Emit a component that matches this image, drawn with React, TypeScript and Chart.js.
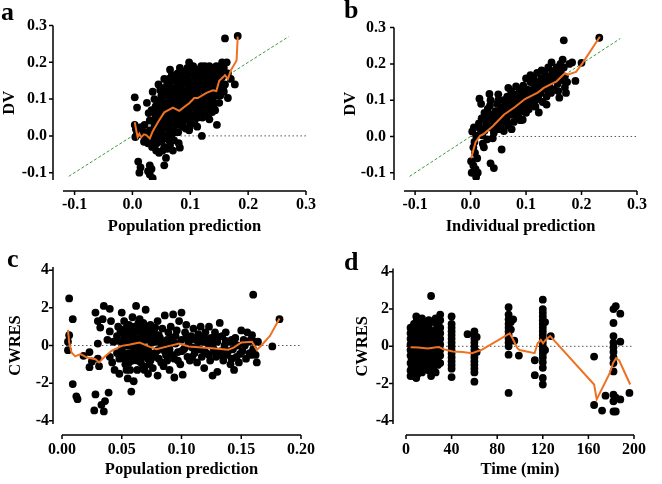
import React, { useEffect, useRef } from "react";
import { Chart, registerables } from "chart.js";
Chart.register(...registerables);

const SERIF = "'Liberation Serif', 'Times New Roman', Times, serif";
const ORANGE = "#EE7222";
const GREEN = "#3A9A3A";
type Pt = [number, number];

// ---- tick values ----
const predTicks = [-0.1, 0, 0.1, 0.2, 0.3];
const dvTicks = [-0.1, 0, 0.1, 0.2, 0.3];
const cPredTicks = [0, 0.05, 0.1, 0.15, 0.2];
const cwresTicks = [-4, -2, 0, 2, 4];
const timeTicks = [0, 40, 80, 120, 160, 200];

// ---- reference lines ----
const identityLine: Pt[] = [[-0.11, -0.11], [0.27, 0.27]];
const zeroLineAB: Pt[] = [[0, 0], [0.3, 0]];
const zeroLineC: Pt[] = [[0, 0], [0.2, 0]];
const zeroLineD: Pt[] = [[0, 0], [200, 0]];

// ---- panel a: DV vs population prediction ----
const aPoints: Pt[] = [
  [0.004,0.105],[0.008,0.077],[0.004,0.03],[0.006,0.018],[0.008,0.006],[0.005,-0.003],[0.012,0.004],[0.015,0.024],[0.018,0.012],[0.021,0.03],[0.022,-0.006],[0.01,-0.07],[0.014,-0.086],[0.012,-0.1],[0.02,-0.016],
  [0.025,0.09],[0.028,0.062],[0.03,0.042],[0.03,0.015],[0.032,-0.005],[0.027,-0.02],[0.034,-0.03],[0.036,0.006],[0.038,0.025],[0.04,0.055],[0.04,0.08],[0.038,0.1],[0.035,0.12],[0.041,-0.04],[0.046,-0.046],[0.03,-0.08],[0.033,-0.09],[0.03,-0.105],[0.035,-0.115],[0.027,-0.096],[0.026,0.005],[0.033,0.07],
  [0.045,0.14],[0.048,0.125],[0.05,0.11],[0.046,0.095],[0.05,0.08],[0.047,0.06],[0.052,0.045],[0.045,0.03],[0.05,0.015],[0.055,0.0],[0.05,-0.015],[0.055,-0.03],[0.058,-0.06],[0.055,-0.08],[0.06,0.14],[0.058,0.12],[0.061,0.1],[0.056,0.085],[0.06,0.065],[0.058,0.035],[0.061,0.02],[0.055,0.155],[0.063,0.05],[0.053,0.065],[0.043,0.012],[0.062,-0.01],
  [0.065,0.18],[0.068,0.165],[0.065,0.145],[0.07,0.13],[0.066,0.115],[0.07,0.095],[0.068,0.075],[0.072,0.06],[0.066,0.04],[0.07,0.02],[0.068,0.004],[0.072,-0.012],[0.075,0.15],[0.078,0.135],[0.075,0.11],[0.08,0.09],[0.076,0.07],[0.078,0.05],[0.08,0.03],[0.075,0.01],[0.08,-0.02],[0.082,-0.032],[0.078,0.17],[0.082,0.185],[0.073,0.085],[0.083,0.065],
  [0.085,0.16],[0.088,0.142],[0.086,0.104],[0.09,0.1],[0.087,0.08],[0.09,0.06],[0.088,0.04],[0.092,0.02],[0.09,0.172],[0.095,0.185],[0.098,0.2],[0.095,0.155],[0.097,0.13],[0.1,0.115],[0.095,0.095],[0.1,0.075],[0.096,0.055],[0.1,0.035],[0.098,0.015],[0.093,0.118],
  [0.105,0.19],[0.108,0.17],[0.105,0.15],[0.11,0.135],[0.107,0.12],[0.11,0.1],[0.106,0.085],[0.11,0.065],[0.108,0.045],[0.112,0.025],[0.115,0.18],[0.118,0.16],[0.115,0.145],[0.12,0.125],[0.116,0.105],[0.12,0.085],[0.118,0.07],[0.121,0.05],[0.12,0.0],
  [0.125,0.19],[0.128,0.17],[0.125,0.15],[0.13,0.135],[0.127,0.115],[0.13,0.095],[0.128,0.08],[0.132,0.06],[0.135,0.18],[0.138,0.16],[0.135,0.14],[0.14,0.12],[0.136,0.1],[0.14,0.08],[0.138,0.065],[0.133,0.045],
  [0.145,0.19],[0.148,0.17],[0.145,0.15],[0.15,0.13],[0.147,0.11],[0.15,0.09],[0.146,0.03],[0.155,0.2],[0.158,0.185],[0.155,0.16],[0.16,0.14],[0.158,0.12],[0.163,0.2],[0.165,0.17],[0.165,0.103],[0.17,0.155],[0.177,0.14],[0.16,0.265],[0.182,0.272],
  [0.042,0.07],[0.044,0.045],[0.047,0.02],[0.049,-0.002],[0.052,0.13],[0.053,0.095],[0.054,0.03],[0.057,0.105],[0.059,0.08],[0.059,0.05],[0.062,0.13],[0.063,0.155],[0.064,0.085],[0.064,0.005],[0.067,0.03],[0.067,0.1],[0.069,0.055],[0.071,0.16],[0.071,0.11],[0.072,0.045],[0.074,0.125],[0.074,0.035],[0.077,0.095],[0.077,0.16],[0.079,0.115],[0.079,0.01],[0.081,0.15],[0.081,0.075],[0.083,0.045],[0.084,0.13],[0.085,0.09],[0.086,0.175],[0.087,0.025],[0.089,0.12],[0.091,0.08],[0.091,0.15],[0.093,0.045],[0.094,0.17],[0.096,0.07],[0.097,0.11],[0.099,0.14],[0.099,0.025],
  [0.101,0.17],[0.102,0.095],[0.102,0.055],[0.103,0.13],[0.104,0.18],[0.106,0.11],[0.107,0.035],[0.109,0.15],[0.109,0.08],[0.111,0.18],[0.112,0.12],[0.113,0.05],[0.114,0.095],[0.116,0.165],[0.117,0.13],[0.119,0.19],[0.119,0.1],[0.121,0.145],[0.122,0.065],[0.123,0.175],[0.124,0.105],[0.126,0.13],[0.127,0.16],[0.129,0.09],[0.131,0.15],[0.131,0.115],[0.133,0.19],[0.134,0.075],[0.136,0.165],[0.137,0.13],[0.139,0.095],[0.14,0.18],[0.141,0.145],[0.143,0.11],[0.143,0.07],[0.144,0.165],[0.147,0.13],[0.149,0.185],[0.151,0.15],[0.152,0.11],[0.153,0.17],[0.156,0.14],[0.157,0.125],
  [0.036,-0.015],[0.039,0.04],[0.042,-0.02],[0.044,-0.005],[0.048,0.035],[0.052,-0.04],[0.058,0.0],[0.06,-0.035],[0.065,-0.025],[0.07,-0.04],
];
const aTrend: Pt[] = [
  [0.004,0.037],[0.007,0.012],[0.009,-0.003],[0.012,0.006],[0.015,-0.004],[0.02,0.004],[0.024,0.002],[0.03,-0.007],[0.035,0.012],[0.044,0.037],[0.055,0.064],[0.07,0.077],[0.081,0.068],[0.099,0.09],[0.107,0.103],[0.113,0.103],[0.128,0.117],[0.139,0.124],[0.145,0.122],[0.15,0.15],[0.16,0.165],[0.165,0.155],[0.17,0.178],[0.18,0.205],[0.182,0.27],
];

// ---- panel b: DV vs individual prediction ----
const bPoints: Pt[] = [
  [0.002,-0.1],[0.001,-0.068],[0.005,-0.08],[0.008,-0.045],[0.005,-0.03],[0.01,-0.112],[0.013,-0.1],[0.006,0.025],[0.003,0.014],[0.01,0.002],[0.007,-0.015],[0.012,-0.06],[0.009,-0.09],
  [0.016,0.104],[0.019,0.09],[0.015,0.036],[0.018,0.02],[0.021,0.003],[0.022,-0.02],[0.02,0.05],[0.025,0.065],[0.028,0.04],[0.025,0.016],[0.03,-0.008],[0.028,0.03],[0.031,0.076],[0.024,-0.03],
  [0.034,0.117],[0.036,0.1],[0.035,0.085],[0.038,0.06],[0.04,0.045],[0.036,0.025],[0.042,0.01],[0.04,-0.005],[0.045,0.07],[0.048,0.09],[0.046,0.035],[0.05,0.02],[0.048,0.055],[0.036,-0.074],[0.042,-0.087],[0.05,0.116],[0.05,0.1],
  [0.055,0.08],[0.056,0.065],[0.058,0.042],[0.055,0.03],[0.06,0.1],[0.062,0.085],[0.06,0.055],[0.065,0.07],[0.065,0.045],[0.068,0.134],[0.066,0.11],[0.07,0.095],[0.07,0.06],[0.056,-0.036],[0.06,0.015],[0.068,0.03],
  [0.073,0.125],[0.075,0.105],[0.075,0.08],[0.076,0.06],[0.078,0.04],[0.08,0.115],[0.082,0.138],[0.083,0.095],[0.085,0.075],[0.084,0.055],[0.088,0.13],[0.09,0.11],[0.09,0.09],[0.088,0.065],[0.074,0.02],[0.09,0.045],
  [0.095,0.14],[0.095,0.12],[0.097,0.1],[0.096,0.08],[0.1,0.16],[0.1,0.065],[0.102,0.13],[0.104,0.11],[0.105,0.09],[0.105,0.075],[0.108,0.169],[0.108,0.15],[0.11,0.125],[0.11,0.1],[0.094,0.046],
  [0.114,0.16],[0.115,0.14],[0.116,0.12],[0.117,0.1],[0.117,0.082],[0.12,0.175],[0.122,0.15],[0.123,0.13],[0.122,0.11],[0.123,0.066],[0.126,0.12],[0.128,0.182],[0.128,0.16],[0.13,0.14],[0.13,0.095],
  [0.134,0.175],[0.135,0.155],[0.137,0.13],[0.137,0.11],[0.14,0.19],[0.142,0.165],[0.142,0.14],[0.145,0.12],[0.146,0.204],[0.148,0.18],[0.15,0.155],[0.137,0.088],[0.15,0.13],
  [0.155,0.19],[0.155,0.17],[0.157,0.145],[0.158,0.125],[0.16,0.107],[0.162,0.2],[0.163,0.175],[0.165,0.155],[0.166,0.212],[0.168,0.19],[0.17,0.165],[0.17,0.135],[0.172,0.12],[0.168,0.265],[0.174,0.15],
  [0.178,0.2],[0.183,0.204],[0.189,0.153],[0.2,0.203],[0.232,0.272],
  [0.032,0.05],[0.044,0.02],[0.053,0.05],[0.063,0.06],[0.072,0.085],[0.081,0.07],[0.087,0.1],[0.093,0.075],[0.099,0.12],[0.107,0.11],[0.113,0.13],[0.119,0.14],[0.125,0.14],[0.132,0.155],[0.139,0.15],[0.146,0.16],[0.152,0.175],[0.16,0.16],
];
const bTrend: Pt[] = [
  [0.001,-0.06],[0.009,-0.016],[0.017,0.002],[0.023,0.006],[0.04,0.028],[0.06,0.06],[0.08,0.081],[0.098,0.103],[0.121,0.121],[0.132,0.134],[0.155,0.152],[0.17,0.174],[0.175,0.17],[0.19,0.178],[0.201,0.2],[0.233,0.275],
];

// ---- panel c: CWRES vs population prediction ----
const cPoints: Pt[] = [
  [0.005,0.2],[0.005,-0.25],[0.006,0.55],[0.006,2.5],[0.009,1.4],[0.009,-2.05],[0.012,-2.7],[0.013,-2.85],[0.018,-0.55],[0.023,-0.35],[0.023,-1.15],[0.025,-0.85],[0.027,-3.45],[0.028,1.75],[0.028,-2.6],[0.03,1.3],[0.03,0.1],[0.03,-0.7],[0.031,-1.1],[0.032,0.95],[0.033,-3.15],[0.034,1.4],[0.035,2.1],[0.035,-3.5],[0.036,-2.95],[0.038,0.3],[0.039,-2.5],[0.04,1.95],[0.04,0.75],[0.04,-0.6],[0.041,1.3],[0.042,-0.9],[0.043,0.2],[0.044,-1.3],
  [0.046,0.5],[0.046,-0.4],[0.047,1.0],[0.048,-1.5],[0.05,1.75],[0.05,0.2],[0.05,-0.2],[0.051,0.7],[0.052,-0.7],[0.052,1.3],[0.053,-1.0],[0.054,0.0],[0.055,0.4],[0.055,-1.75],[0.056,1.1],[0.056,-0.4],[0.057,0.8],[0.057,-1.3],[0.058,-2.45],[0.058,0.2],[0.059,1.5],[0.059,-0.8],[0.06,-1.9],[0.06,0.5],[0.06,-0.1],
  [0.052,0.5],[0.054,-0.5],[0.057,0.0],[0.058,0.65],[0.06,-0.6],[0.062,0.3],[0.064,-0.4],[0.066,0.2],[0.068,-0.6],[0.07,0.7],[0.071,-0.2],[0.073,-1.0],[0.053,0.9],[0.056,-0.9],[0.065,1.0],[0.069,-1.3],
  [0.061,1.0],[0.062,2.1],[0.062,-0.5],[0.063,0.3],[0.063,-1.3],[0.064,0.8],[0.065,-0.2],[0.065,1.4],[0.066,-0.9],[0.066,0.6],[0.067,0.0],[0.068,-1.1],[0.068,1.2],[0.069,0.35],[0.07,-0.5],[0.07,1.9],[0.071,0.9],[0.072,-1.5],[0.072,-0.15],[0.073,0.5],[0.074,1.1],[0.074,-0.8],[0.075,0.15],
  [0.076,-1.2],[0.077,0.7],[0.078,-0.4],[0.079,0.2],[0.08,1.3],[0.08,-1.6],[0.081,-0.7],[0.082,0.4],[0.083,-0.1],[0.084,0.9],[0.085,-1.1],[0.086,1.6],[0.087,-0.5],[0.088,0.3],[0.089,0.7],[0.09,-1.3],[0.09,-0.2],[0.091,1.0],
  [0.092,0.4],[0.093,1.65],[0.094,-1.7],[0.094,-0.7],[0.095,0.1],[0.096,0.8],[0.097,-0.35],[0.098,1.3],[0.099,-1.0],[0.1,1.75],[0.1,0.3],[0.101,-1.55],[0.102,-0.2],[0.103,0.7],[0.104,1.1],[0.105,-0.6],[0.106,0.2],[0.107,-0.8],[0.108,0.5],[0.109,-0.1],[0.11,0.9],
  [0.111,-0.4],[0.112,0.3],[0.113,-0.9],[0.114,0.6],[0.115,-0.2],[0.116,1.0],[0.117,-0.6],[0.118,0.2],[0.119,-1.2],[0.12,0.7],[0.121,-0.4],[0.122,0.1],[0.123,1.0],[0.124,-0.8],[0.125,0.4],[0.126,-1.6],[0.127,-0.2],[0.128,0.7],[0.129,-0.6],[0.13,-1.4],[0.13,0.2],
  [0.132,1.2],[0.133,-0.3],[0.134,0.5],[0.135,-0.8],[0.136,0.0],[0.137,0.7],[0.138,-0.5],[0.14,0.2],[0.141,-1.0],[0.142,0.3],[0.143,-0.2],[0.144,-1.3],[0.145,0.4],[0.146,-0.6],[0.147,0.0],[0.148,-0.9],[0.15,0.8],[0.151,-0.3],[0.152,0.3],[0.154,-0.7],[0.155,0.7],[0.156,0.2],[0.157,-0.4],[0.158,0.3],[0.16,2.7],[0.16,-0.2],[0.161,0.2],[0.162,-0.5],[0.163,-0.9],[0.164,0.2],[0.176,-0.05],[0.182,1.4],
  [0.047,0.25],[0.048,-0.7],[0.049,0.75],[0.051,-0.4],[0.053,0.2],[0.054,-1.3],[0.055,0.7],[0.057,-0.6],[0.058,1.0],[0.059,0.3],[0.061,-0.35],[0.061,0.75],[0.063,-0.8],[0.064,0.1],[0.064,1.2],[0.066,-0.55],[0.067,0.45],[0.069,-0.3],[0.069,0.95],[0.071,0.3],[0.072,-0.7],[0.073,0.8],[0.074,-0.4],[0.076,0.45],[0.077,-0.6],[0.078,0.95],[0.08,-0.25],[0.081,0.55],[0.083,-0.9],[0.085,0.2],[0.086,-0.3],[0.088,-0.8],[0.089,0.1],
  [0.092,-0.5],[0.095,0.5],[0.097,-0.8],[0.1,-0.3],[0.103,-0.1],[0.104,0.45],[0.107,0.3],[0.109,-0.6],[0.112,-0.15],[0.114,0.2],[0.117,0.4],[0.119,-0.3],[0.121,0.35],[0.123,-0.5],[0.126,0.05],[0.128,-0.35],[0.131,0.45],[0.134,-0.55],[0.137,0.25],[0.139,-0.3],[0.142,-0.7],[0.145,0.05],[0.149,-0.45],[0.153,0.0],[0.158,-0.5],[0.159,0.55],
];
const cTrend: Pt[] = [
  [0.005,0.83],[0.006,0.16],[0.008,-0.37],[0.011,-0.58],[0.0155,-0.46],[0.021,-0.64],[0.028,-0.73],[0.031,-0.9],[0.035,-0.64],[0.0415,-0.28],[0.05,-0.02],[0.057,0.05],[0.065,0.16],[0.0735,-0.07],[0.079,-0.2],[0.09,-0.02],[0.098,0.11],[0.106,-0.05],[0.117,-0.1],[0.128,-0.16],[0.139,-0.23],[0.144,-0.1],[0.15,0.16],[0.159,0.2],[0.163,-0.23],[0.166,-0.05],[0.174,0.51],[0.182,1.43],
];

// ---- panel d: CWRES vs time (min), columns of [time, CWRES values] ----
const dColumns: [number, number[]][] = [
  [4, [1.0,0.7,0.4,0.1,-0.2,-0.5,-0.9,-1.3,-1.6]],
  [5, [0.8,0.5,0.2,-0.1,-0.4,-0.7,-1.1,-1.5]],
  [7, [1.2,0.9,0.55,0.25,-0.05,-0.35,-0.65,-1.0,-1.4,-1.6]],
  [9, [1.6,1.3,1.0,0.6,0.3,0.0,-0.3,-0.6,-0.9,-1.2,-1.7]],
  [10, [1.4,0.8,0.45,0.15,-0.15,-0.45,-0.8,-1.5]],
  [12, [1.1,0.7,0.35,0.05,-0.25,-0.55,-0.85,-1.2]],
  [14, [1.5,0.9,0.5,0.2,-0.1,-0.4,-0.7,-1.0,-1.4]],
  [16, [1.2,0.6,0.3,0.0,-0.3,-0.6,-0.9]],
  [18, [0.7,0.4,0.1,-0.2,-0.5,-0.8,-1.2]],
  [20, [1.4,1.0,0.6,0.3,0.0,-0.3,-0.6,-1.0,-1.3]],
  [22, [2.7,0.8,0.5,0.2,-0.1,-0.4,-0.7,-1.6]],
  [24, [1.3,0.7,0.4,0.1,-0.2,-0.5,-0.9,-1.1]],
  [26, [1.5,0.9,0.5,0.2,-0.1,-0.4,-0.8,-1.4]],
  [28, [1.1,0.6,0.3,0.0,-0.3,-0.6,-1.0]],
  [30, [1.7,1.4,1.0,0.7,0.4,0.1,-0.2,-0.5,-0.9]],
  [40, [1.6,1.2,1.0,0.8,0.6,0.4,0.2,0.0,-0.2,-0.4,-0.6,-0.8,-1.0,-1.2,-1.65]],
  [54, [0.65]],
  [60, [0.8,0.6,0.4,0.2,0.0,-0.2,-0.4,-0.6,-0.8,-1.0,-1.2,-1.4,-1.9]],
  [62, [0.5,-0.3]],
  [90, [2.1,1.7,1.45,1.2,1.0,0.8,0.6,0.4,0.2,0.0,-0.45,-2.5]],
  [92, [1.3,0.9]],
  [94, [1.45]],
  [95, [0.3]],
  [99, [-0.5]],
  [113, [-0.75,-1.55]],
  [120, [2.5,2.0,1.8,1.6,1.4,1.2,1.0,0.8,0.6,0.4,0.2,0.0,-0.2,-0.4,-0.6,-0.85,-1.15,-1.7,-2.05]],
  [122, [1.3,-0.2]],
  [127, [0.55]],
  [165, [-0.55,-3.15]],
  [172, [-3.45]],
  [175, [-2.65]],
  [182, [2.0,1.25,0.55,0.2,-0.05,-0.3,-0.6,-0.9,-1.35,-2.6,-2.95,-3.5]],
  [184, [2.15,-2.75,-3.5]],
  [188, [1.75,0.25,-2.85]],
  [196, [-2.5]],
];
const dTrend: Pt[] = [
  [4,-0.05],[11,-0.07],[19,-0.12],[25,-0.07],[29,-0.04],[33,-0.16],[41,-0.28],[49.5,-0.3],[58,-0.37],[62,-0.28],[66,-0.2],[91,0.69],[93.5,0.42],[97.7,-0.1],[99.6,-0.2],[112.8,-0.37],[115.5,0.16],[118.3,0.34],[120.2,0.16],[122.4,0.34],[126.5,0.55],[165,-2.05],[167.3,-2.85],[178.8,-1.43],[181.6,-0.9],[184.3,-0.64],[187,-0.76],[196.7,-2.05],
];

// ---------------------------------------------------------------
const toXY = (pts: Pt[]) => pts.map(([x, y]) => ({ x, y }));
const expandColumns = (cols: [number, number[]][]): Pt[] =>
  cols.flatMap(([t, vals]) => vals.map((v) => [t, v] as Pt));

const prismPlugin = {
  id: "prism",
  afterDraw(chart: any, _args: any, o: any) {
    const { ctx, chartArea: ca, scales } = chart;
    ctx.save();
    ctx.strokeStyle = "#000";
    ctx.lineWidth = 1.5;
    ctx.beginPath();
    ctx.moveTo(o.yAxisX, ca.top);
    ctx.lineTo(o.yAxisX, ca.bottom);
    for (const t of scales.y.ticks) {
      const p = scales.y.getPixelForValue(t.value);
      ctx.moveTo(o.yAxisX, p);
      ctx.lineTo(o.yAxisX - 4, p);
    }
    ctx.moveTo(ca.left, o.xAxisY);
    ctx.lineTo(ca.right, o.xAxisY);
    for (const t of scales.x.ticks) {
      const p = scales.x.getPixelForValue(t.value);
      ctx.moveTo(p, o.xAxisY);
      ctx.lineTo(p, o.xAxisY + 4);
    }
    ctx.stroke();
    ctx.fillStyle = "#000";
    ctx.font = `bold 26px ${SERIF}`;
    ctx.textAlign = "left";
    ctx.textBaseline = "alphabetic";
    ctx.fillText(o.letter, o.letterX, o.letterY);
    ctx.restore();
  },
};

interface PanelDef {
  letter: string; letterX: number; letterY: number;
  points: Pt[]; trend: Pt[]; zero: Pt[]; identity?: Pt[];
  xMin: number; xMax: number; yMin: number; yMax: number;
  xTicks: number[]; yTicks: number[]; xDec: number; yDec: number;
  xTitle: string; yTitle: string;
  area: { left: number; right: number; top: number; bottom: number };
  padLeft: number; yAxisX: number; xAxisY: number;
  yTickPad: number; xTickPad: number; xTitlePad: number;
}

const W = 331;
const H = 242;

function makeConfig(p: PanelDef): any {
  const tickFont = { family: SERIF, size: 16, weight: "bold" };
  const titleFont = { family: SERIF, size: 16.5, weight: "bold" };
  const datasets: any[] = [
    { type: "line", data: toXY(p.trend), borderColor: ORANGE, borderWidth: 2, pointRadius: 0, tension: 0, fill: false, order: 0 },
    { type: "scatter", data: toXY(p.points), backgroundColor: "#000", borderWidth: 0, pointRadius: 3.9, order: 1 },
    { type: "line", data: toXY(p.zero), borderColor: "#555", borderWidth: 1, borderDash: [1.5, 2.5], pointRadius: 0, fill: false, order: 2 },
  ];
  if (p.identity) {
    datasets.push({ type: "line", data: toXY(p.identity), borderColor: GREEN, borderWidth: 1, borderDash: [3, 2], pointRadius: 0, fill: false, order: 3 });
  }
  return {
    type: "scatter",
    data: { datasets },
    options: {
      responsive: false,
      maintainAspectRatio: false,
      animation: false,
      devicePixelRatio: 1,
      events: [],
      layout: { padding: { left: p.padLeft, top: p.area.top, right: W - p.area.right, bottom: 0 } },
      plugins: {
        legend: { display: false },
        tooltip: { enabled: false },
        prism: { letter: p.letter, letterX: p.letterX, letterY: p.letterY, yAxisX: p.yAxisX, xAxisY: p.xAxisY },
      },
      scales: {
        x: {
          type: "linear", position: "bottom", min: p.xMin, max: p.xMax,
          grid: { display: false, drawTicks: false }, border: { display: false },
          ticks: { padding: p.xTickPad, font: tickFont, color: "#000", maxRotation: 0, autoSkip: false,
            callback: (v: any) => Number(v).toFixed(p.xDec) },
          afterBuildTicks: (s: any) => { s.ticks = p.xTicks.map((v) => ({ value: v })); },
          afterFit: (s: any) => { s.height = H - p.area.bottom; },
          title: { display: true, text: p.xTitle, font: titleFont, color: "#000", padding: { top: 0, bottom: p.xTitlePad } },
        },
        y: {
          type: "linear", position: "left", min: p.yMin, max: p.yMax,
          grid: { display: false, drawTicks: false }, border: { display: false },
          ticks: { padding: p.yTickPad, font: tickFont, color: "#000", autoSkip: false,
            callback: (v: any) => Number(v).toFixed(p.yDec) },
          afterBuildTicks: (s: any) => { s.ticks = p.yTicks.map((v) => ({ value: v })); },
          afterFit: (s: any) => { s.width = p.area.left - p.padLeft; },
          title: { display: true, text: p.yTitle, font: titleFont, color: "#000", padding: { top: 0, bottom: 0 } },
        },
      },
    },
    plugins: [prismPlugin],
  };
}

const panels: { def: PanelDef; left: number; top: number }[] = [
  {
    left: 0, top: 0,
    def: {
      letter: "a", letterX: 1, letterY: 20,
      points: aPoints, trend: aTrend, zero: zeroLineAB, identity: identityLine,
      xMin: -0.12, xMax: 0.3, yMin: -0.12, yMax: 0.3,
      xTicks: predTicks, yTicks: dvTicks, xDec: 1, yDec: 1,
      xTitle: "Population prediction", yTitle: "DV",
      area: { left: 63, right: 308, top: 20, bottom: 180 },
      padLeft: 0, yAxisX: 53, xAxisY: 191, yTickPad: 16, xTickPad: 15, xTitlePad: 5,
    },
  },
  {
    left: 331, top: 0,
    def: {
      letter: "b", letterX: 13, letterY: 18,
      points: bPoints, trend: bTrend, zero: zeroLineAB, identity: identityLine,
      xMin: -0.12, xMax: 0.3, yMin: -0.12, yMax: 0.3,
      xTicks: predTicks, yTicks: dvTicks, xDec: 1, yDec: 1,
      xTitle: "Individual prediction", yTitle: "DV",
      area: { left: 73, right: 317, top: 20, bottom: 180 },
      padLeft: 10, yAxisX: 63, xAxisY: 191, yTickPad: 18, xTickPad: 15, xTitlePad: 5,
    },
  },
  {
    left: 0, top: 242,
    def: {
      letter: "c", letterX: 7, letterY: 25,
      points: cPoints, trend: cTrend, zero: zeroLineC,
      xMin: 0, xMax: 0.2, yMin: -4.17, yMax: 4.17,
      xTicks: cPredTicks, yTicks: cwresTicks, xDec: 2, yDec: 0,
      xTitle: "Population prediction", yTitle: "CWRES",
      area: { left: 62, right: 308, top: 25, bottom: 182 },
      padLeft: 6, yAxisX: 53, xAxisY: 193, yTickPad: 13, xTickPad: 16, xTitlePad: 4,
    },
  },
  {
    left: 331, top: 242,
    def: {
      letter: "d", letterX: 13, letterY: 28,
      points: expandColumns(dColumns), trend: dTrend, zero: zeroLineD,
      xMin: 0, xMax: 200, yMin: -4.17, yMax: 4.17,
      xTicks: timeTicks, yTicks: cwresTicks, xDec: 0, yDec: 0,
      xTitle: "Time (min)", yTitle: "CWRES",
      area: { left: 75, right: 316, top: 25, bottom: 182 },
      padLeft: 22, yAxisX: 62, xAxisY: 193, yTickPad: 17, xTickPad: 16, xTitlePad: 4,
    },
  },
];

function Panel({ def, left, top }: { def: PanelDef; left: number; top: number }) {
  const ref = useRef<HTMLCanvasElement>(null);
  useEffect(() => {
    if (!ref.current) return;
    const chart = new Chart(ref.current, makeConfig(def));
    return () => chart.destroy();
  }, [def]);
  return (
    <canvas
      ref={ref}
      width={W}
      height={H}
      style={{ position: "absolute", left, top, width: W, height: H, display: "block" }}
    />
  );
}

export default function App() {
  return (
    <div style={{ position: "fixed", left: 0, top: 0, width: 662, height: 484, background: "#fff", overflow: "hidden" }}>
      {panels.map((p, i) => (
        <Panel key={i} def={p.def} left={p.left} top={p.top} />
      ))}
    </div>
  );
}
